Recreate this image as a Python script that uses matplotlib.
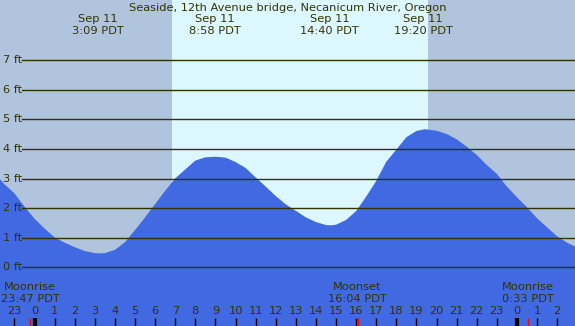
import matplotlib
matplotlib.use("Agg")
import matplotlib.pyplot as plt
import matplotlib.transforms as mtransforms

# ---- data (hours relative to Sep 11 00:00 PDT, tide in ft) ----
tide_hours = [-1.8, -1.5, -1, -0.5, 0, 0.5, 1, 1.5, 2, 2.5, 3, 3.25, 3.5, 4, 4.5, 5,
              5.5, 6, 6.5, 7, 7.5, 8, 8.5, 9, 9.5, 10, 10.5, 11, 11.5, 12, 12.5, 13,
              13.5, 14, 14.5, 14.75, 15, 15.5, 16, 16.5, 17, 17.5, 18, 18.5, 19,
              19.4, 20, 20.5, 21, 21.5, 22, 22.5, 23, 23.5, 24, 24.5, 25, 25.5, 26,
              26.5, 27]
tide_ft = [3.04, 2.81, 2.50, 2.05, 1.64, 1.31, 1.01, 0.83, 0.68, 0.55, 0.48, 0.47,
           0.48, 0.59, 0.85, 1.26, 1.69, 2.14, 2.59, 3.01, 3.31, 3.61, 3.72, 3.74,
           3.71, 3.56, 3.36, 3.04, 2.73, 2.41, 2.13, 1.91, 1.69, 1.53, 1.43, 1.42,
           1.44, 1.60, 1.90, 2.39, 2.92, 3.57, 3.98, 4.40, 4.61, 4.67, 4.62, 4.51,
           4.33, 4.08, 3.80, 3.46, 3.16, 2.73, 2.37, 2.03, 1.66, 1.35, 1.05, 0.83,
           0.67]

extreme_hours = [3.15, 8.97, 14.67, 19.33]
extreme_labels = ["3:09 PDT", "8:58 PDT", "14:40 PDT", "19:20 PDT"]
extreme_date = "Sep 11"

sunrise_h = 6.84
sunset_h = 19.58

moon_hours = [-0.22, 16.07, 24.55]
moon_names = ["Moonrise", "Moonset", "Moonrise"]
moon_times = ["23:47 PDT", "16:04 PDT", "0:33 PDT"]

ft_levels = [0, 1, 2, 3, 4, 5, 6, 7]
tick_hours = list(range(-2, 28))
label_hours = list(range(-1, 27))
midnights = [0, 24]

title = "Seaside, 12th Avenue bridge, Necanicum River, Oregon"

# ---- style ----
TXT = "#333300"
NIGHT = "#B0C4DE"
DAY = "#DDF7FF"
WATER = "#4169E1"
FS = 8.2

W, H = 575, 326
fig = plt.figure(figsize=(W / 100, H / 100), dpi=100)
ax = fig.add_axes([0, 0, 1, 1])
x0, x1 = -1.72, 26.89
y0, y1 = -1.985, 9.04
ax.set_xlim(x0, x1)
ax.set_ylim(y0, y1)
ax.axis("off")

ax.axvspan(x0, sunrise_h, color=NIGHT, lw=0, zorder=0)
ax.axvspan(sunrise_h, sunset_h, color=DAY, lw=0, zorder=0)
ax.axvspan(sunset_h, x1, color=NIGHT, lw=0, zorder=0)

ax.fill_between(tide_hours, tide_ft, y0 - 1, color=WATER, lw=0, zorder=1)

ytrans = mtransforms.blended_transform_factory(ax.transAxes, ax.transData)
xtrans = mtransforms.blended_transform_factory(ax.transData, ax.transAxes)

for lv in ft_levels:
    ax.plot([22 / W, 1], [lv, lv], transform=ytrans, color=TXT, lw=1.0, zorder=2)
    ax.text(3 / W, lv, f"{lv} ft", transform=ytrans, ha="left", va="center",
            fontsize=FS, color=TXT, zorder=3)

ax.text(0.5, 1 - 8 / H, title, transform=ax.transAxes, ha="center", va="center",
        fontsize=FS, color=TXT)
for h, lab in zip(extreme_hours, extreme_labels):
    ax.text(h, 1 - 19 / H, extreme_date, transform=xtrans,
            ha="center", va="center", fontsize=FS, color=TXT)
    ax.text(h, 1 - 31 / H, lab, transform=xtrans,
            ha="center", va="center", fontsize=FS, color=TXT)

for h in tick_hours:
    ax.plot([h, h], [0, 8 / H], transform=xtrans, color="black", lw=1.0, zorder=4,
            solid_capstyle="butt")
for h in label_hours:
    ax.text(h, 1 - 311.5 / H, str(h % 24), transform=xtrans, ha="center",
            va="center", fontsize=FS, color=TXT)
for h in midnights:
    ax.plot([h, h], [0, 8 / H], transform=xtrans, color="black", lw=3.0, zorder=4,
            solid_capstyle="butt")
for h, nm, tm in zip(moon_hours, moon_names, moon_times):
    ax.plot([h, h], [0, 8 / H], transform=xtrans, color="red", lw=1.0, zorder=5,
            solid_capstyle="butt")
    ax.text(h, 1 - 287 / H, nm, transform=xtrans, ha="center", va="center",
            fontsize=FS, color=TXT)
    ax.text(h, 1 - 299 / H, tm, transform=xtrans, ha="center", va="center",
            fontsize=FS, color=TXT)

fig.savefig("out.png", dpi=100)
